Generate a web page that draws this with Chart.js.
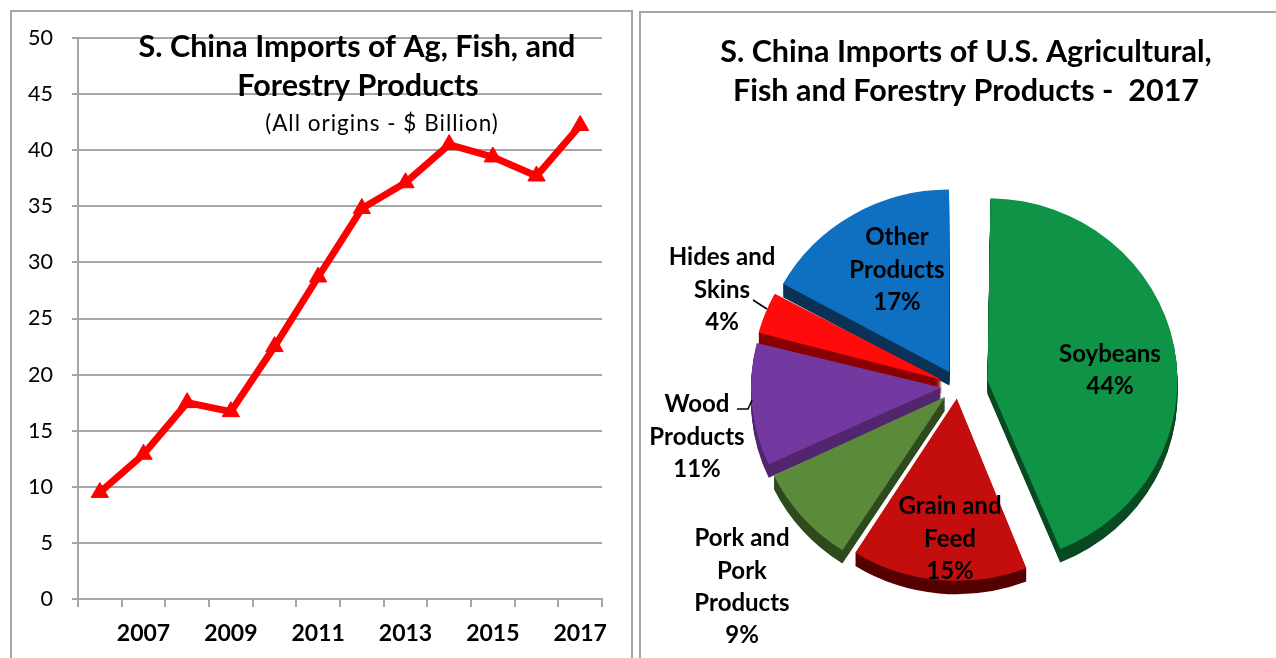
<!DOCTYPE html>
<html>
<head>
<meta charset="utf-8">
<title>S. China Imports of Ag, Fish, and Forestry Products</title>
<script src="https://cdn.jsdelivr.net/npm/chart.js@4.4.1/dist/chart.umd.min.js"></script>
<style>
  html, body { margin: 0; padding: 0; background: #fff; }
  body { width: 1276px; height: 658px; position: relative; overflow: hidden; }
  .panel { position: absolute; border: 2px solid #a6a6a6; box-sizing: border-box; }
  #leftPanel { left: 10px; top: 10px; width: 623px; height: 700px; }
  #rightPanel { left: 639px; top: 11px; width: 700px; height: 700px; }
  .chart-box { position: absolute; top: 0; height: 658px; }
  #lineBox { left: 0; width: 636px; }
  #pieBox { left: 640px; width: 636px; }
</style>
</head>
<body>
<div class="panel" id="leftPanel"></div>
<div class="panel" id="rightPanel"></div>
<div class="chart-box" id="lineBox"><canvas id="importsChart"></canvas></div>
<div class="chart-box" id="pieBox"><canvas id="usShareChart"></canvas></div>
<script>
// South China imports, all origins ($ billion)
const years = ['2006', '2007', '2008', '2009', '2010', '2011', '2012', '2013', '2014', '2015', '2016', '2017'];
const importValues = [9.5, 12.9, 17.5, 16.7, 22.5, 28.7, 34.8, 37.1, 40.5, 39.4, 37.7, 42.2];
const yMin = 0;
const yMax = 50;
const yStep = 5;

// 2017 imports from the U.S., share by product group (%)
const productLabels = [
  ['Soybeans'],
  ['Grain and', 'Feed'],
  ['Pork and', 'Pork', 'Products'],
  ['Wood', 'Products'],
  ['Hides and', 'Skins'],
  ['Other', 'Products']
];
const productShares = [44, 15, 9, 11, 4, 17];

Chart.defaults.font.family = 'Lato';
Chart.defaults.color = '#000';

const gridGray = '#a6a6a6';

// free-standing text lines (titles) drawn on top of the chart
const textLines = {
  id: 'textLines',
  afterDraw(chart, args, opts) {
    const ctx = chart.ctx;
    ctx.save();
    ctx.fillStyle = '#000';
    ctx.textAlign = 'center';
    ctx.textBaseline = 'alphabetic';
    opts.lines.forEach(l => {
      ctx.font = l.font;
      ctx.letterSpacing = l.spacing || '0px';
      ctx.fillText(l.text, l.x, l.y);
    });
    ctx.restore();
  }
};

new Chart(document.getElementById('importsChart'), {
  type: 'line',
  data: {
    labels: years,
    datasets: [{
      data: importValues,
      borderColor: '#ff0000',
      backgroundColor: '#ff0000',
      borderWidth: 7,
      borderJoinStyle: 'miter',
      tension: 0,
      pointStyle: 'triangle',
      pointRadius: 10,
      pointBorderWidth: 1,
      pointBackgroundColor: '#ff0000',
      pointBorderColor: '#ff0000'
    }]
  },
  options: {
    responsive: true,
    maintainAspectRatio: false,
    animation: false,
    layout: { padding: { left: 0, right: 34, top: 38, bottom: 0 } },
    plugins: {
      legend: { display: false },
      tooltip: { enabled: false },
      textLines: {
        lines: [
          { text: 'S. China Imports of Ag, Fish, and', x: 357, y: 57, font: 'bold 30.5px Lato' },
          { text: 'Forestry Products', x: 358, y: 96, font: 'bold 30.5px Lato' },
          { text: '(All origins - $ Billion)', x: 382, y: 131, font: '22.5px Lato', spacing: '1px' }
        ]
      }
    },
    scales: {
      x: {
        offset: true,
        grid: { offset: true, drawOnChartArea: false, tickLength: 8, color: gridGray, lineWidth: 2 },
        border: { color: gridGray, width: 2 },
        ticks: {
          autoSkip: false,
          maxRotation: 0,
          padding: 13,
          font: { size: 23, weight: 'bold' },
          callback: (value, index) => (index % 2 ? years[index] : '')
        },
        afterFit: scale => { scale.height = 59; }
      },
      y: {
        min: yMin,
        max: yMax,
        grid: { color: gridGray, lineWidth: 2, tickLength: 6 },
        border: { color: gridGray, width: 2 },
        ticks: { stepSize: yStep, padding: 19, font: { size: 21.5 } },
        afterFit: scale => { scale.width = 78; }
      }
    }
  },
  plugins: [textLines]
});

const sliceColors = ['#0f9447', '#c40e0e', '#5b8a3b', '#7339a0', '#ff0b0b', '#0f6fc0'];
const sideColors = ['#0a4a20', '#560000', '#2f4a1d', '#52276f', '#8a0000', '#0b3356'];

// 3-D look for the pie: slightly flattened, exploded slices keep the common
// radius, and each slice is repeated a few pixels lower in a darker shade
const pieDepth = {
  id: 'pieDepth',
  afterDatasetsUpdate(chart) {
    chart.getDatasetMeta(0).data.forEach(arc => {
      const shift = (arc.options.offset || 0) / 4;
      arc.outerRadius -= shift * (1 - Math.sin(Math.min(Math.PI, arc.circumference)));
    });
  },
  beforeDatasetsDraw(chart, args, opts) {
    const ctx = chart.ctx;
    const arcs = chart.getDatasetMeta(0).data;
    const c = arcs[0];
    ctx.save();
    ctx.translate(c.x, c.y);
    ctx.scale(1, opts.tilt);
    ctx.translate(-c.x, -c.y);
    for (let d = opts.depth; d > 0; d--) {
      arcs.forEach((arc, i) => {
        const side = new Chart.ArcElement({
          x: arc.x,
          y: arc.y + d,
          startAngle: arc.startAngle,
          endAngle: arc.endAngle,
          innerRadius: arc.innerRadius,
          outerRadius: arc.outerRadius,
          circumference: arc.circumference
        });
        side.options = Object.assign({}, arc.options, { backgroundColor: opts.colors[i], borderWidth: 0 });
        side.draw(ctx);
      });
    }
  },
  afterDatasetsDraw(chart) {
    chart.ctx.restore();
  }
};

// category name + share, placed around the pie centre
const pieLabels = {
  id: 'pieLabels',
  afterDatasetsDraw(chart, args, opts) {
    const ctx = chart.ctx;
    const arcs = chart.getDatasetMeta(0).data;
    ctx.save();
    ctx.fillStyle = '#000';
    ctx.strokeStyle = '#000';
    ctx.lineWidth = 1.5;
    ctx.font = opts.font;
    ctx.textAlign = 'center';
    ctx.textBaseline = 'middle';
    arcs.forEach((arc, i) => {
      const lines = productLabels[i].concat(productShares[i] + '%');
      const [dx, dy] = opts.anchors[i];
      const top = arc.y + dy - (lines.length - 1) * opts.lineHeight / 2;
      lines.forEach((line, k) => ctx.fillText(line, arc.x + dx, top + k * opts.lineHeight));
    });
    const c = arcs[0];
    opts.leaders.forEach(pts => {
      ctx.beginPath();
      pts.forEach(([px, py], k) => (k ? ctx.lineTo(c.x + px, c.y + py) : ctx.moveTo(c.x + px, c.y + py)));
      ctx.stroke();
    });
    ctx.restore();
  }
};

new Chart(document.getElementById('usShareChart'), {
  type: 'pie',
  data: {
    labels: productLabels,
    datasets: [{
      data: productShares,
      backgroundColor: sliceColors,
      borderWidth: 0,
      offset: [120, 52, 68, 68, 68, 68],
      radius: 190
    }]
  },
  options: {
    responsive: true,
    maintainAspectRatio: false,
    animation: false,
    layout: { padding: { left: 0, right: 0, top: 114, bottom: 0 } },
    plugins: {
      legend: { display: false },
      tooltip: { enabled: false },
      textLines: {
        lines: [
          { text: 'S. China Imports of U.S. Agricultural,', x: 326, y: 62, font: 'bold 30.5px Lato' },
          { text: 'Fish and Forestry Products -  2017', x: 326, y: 101, font: 'bold 30.5px Lato' }
        ]
      },
      pieDepth: { depth: 14, tilt: 0.96, colors: sideColors },
      pieLabels: {
        font: 'bold 24px Lato',
        lineHeight: 32.3,
        anchors: [[152, -16], [-8, 153], [-216, 201], [-261, 51], [-236, -96], [-61, -116]],
        leaders: [
          [[-205, -86], [-191, -77]],
          [[-221, 23], [-210, 23], [-206, 14]]
        ]
      }
    }
  },
  plugins: [pieDepth, pieLabels, textLines]
});
</script>
</body>
</html>
